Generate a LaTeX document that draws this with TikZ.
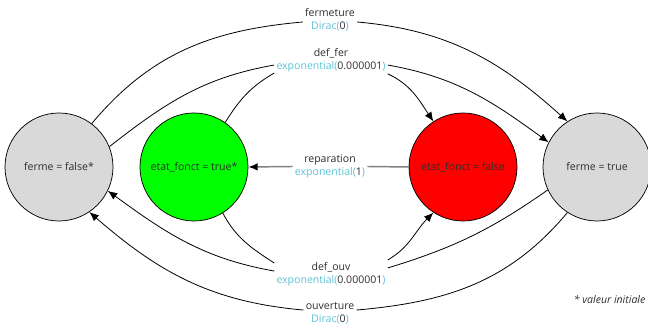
\documentclass[tikz,border=0pt]{standalone}
\usepackage{fontspec}
\setmainfont{Open Sans}
\usetikzlibrary{positioning, arrows.meta}

\definecolor{grisetat}{RGB}{217,217,217}
\definecolor{vertetat}{RGB}{0,255,0}
\definecolor{rougeetat}{RGB}{255,0,0}
\definecolor{couleurloi}{RGB}{92,194,214}
\definecolor{texteetat}{RGB}{45,45,45}
\newcommand{\loi}[1]{\textcolor{couleurloi}{#1}}

\begin{document}
\begin{tikzpicture}[x=0.75pt, y=0.75pt,
    every node/.style={font=\fontsize{7.9}{9.75}\selectfont, text=texteetat},
    state/.style={circle, draw, line width=0.55pt, minimum size=81pt, inner sep=0pt},
    trlabel/.style={align=center, inner sep=1.5pt},
    link/.style={line width=0.6pt},
    trans/.style={link, -{Latex[length=7pt,width=5.8pt]}},
    repar/.style={line width=1.1pt, black!50, -{Latex[length=7pt,width=5.8pt,black]}}
  ]
  \useasboundingbox (0,0) rectangle (648,334);

  % Etats
  \node[state, fill=grisetat] (ff) at (59,167) {ferme = false*};
  \node[state, fill=vertetat] (et) at (194,167) {etat\_fonct = true*};
  \node[state, fill=rougeetat] (ef) at (463,167) {etat\_fonct = false};
  \node[state, fill=grisetat] (ft) at (597,167) {ferme = true};

  % Etiquettes des transitions
  \node[trlabel] (fer) at (330,314) {fermeture\\\loi{Dirac(}0\loi{)}};
  \node[trlabel] (dfer) at (331,273.5) {def\_fer\\\loi{exponential(}0.000001\loi{)}};
  \node[trlabel] (rep) at (330,167.5) {reparation\\\loi{exponential(}1\loi{)}};
  \node[trlabel] (douv) at (331,59.5) {def\_ouv\\\loi{exponential(}0.000001\loi{)}};
  \node[trlabel] (ouv) at (330,20.5) {ouverture\\\loi{Dirac(}0\loi{)}};

  % fermeture
  \draw[link] (ff.53) to[out=50, in=185] ([yshift=-1.5pt]fer.west);
  \draw[trans] ([yshift=-1.5pt]fer.east) to[out=-5, in=138] (ft.123);

  % def_fer
  \draw[link] (ff.22) to[out=38, in=190] ([yshift=-3.4pt]dfer.west);
  \draw[link] (et.55) to[out=58, in=210] ([yshift=-9.4pt]dfer.west);
  \draw[trans] ([yshift=-3.4pt]dfer.east) to[out=-10, in=144] (ft.153);
  \draw[trans] ([yshift=-10pt]dfer.east) to[out=-25, in=124] (ef.123);

  % reparation
  \draw[repar, -] (ef.west) -- (rep.east);
  \draw[repar] (rep.west) -- (et.east);

  % def_ouv
  \draw[link] (et.-58) to[out=-62, in=147] ([yshift=8.6pt]douv.west);
  \draw[trans] ([yshift=2.6pt]douv.west) to[out=170, in=-36] (ff.-26);
  \draw[trans] ([yshift=10.9pt]douv.east) to[out=30, in=-135] (ef.-123);
  \draw[link] (ft.-155) to[out=-145, in=17] ([yshift=4.9pt]douv.east);

  % ouverture
  \draw[trans] ([yshift=2.6pt]ouv.west) to[out=175, in=-41] (ff.-56);
  \draw[link] (ft.-123) to[out=-130, in=5] ([yshift=2.6pt]ouv.east);

  % Legende
  \node[anchor=east, inner sep=1pt] (legende) at (647,34) {\itshape * valeur initiale};
\end{tikzpicture}
\end{document}
